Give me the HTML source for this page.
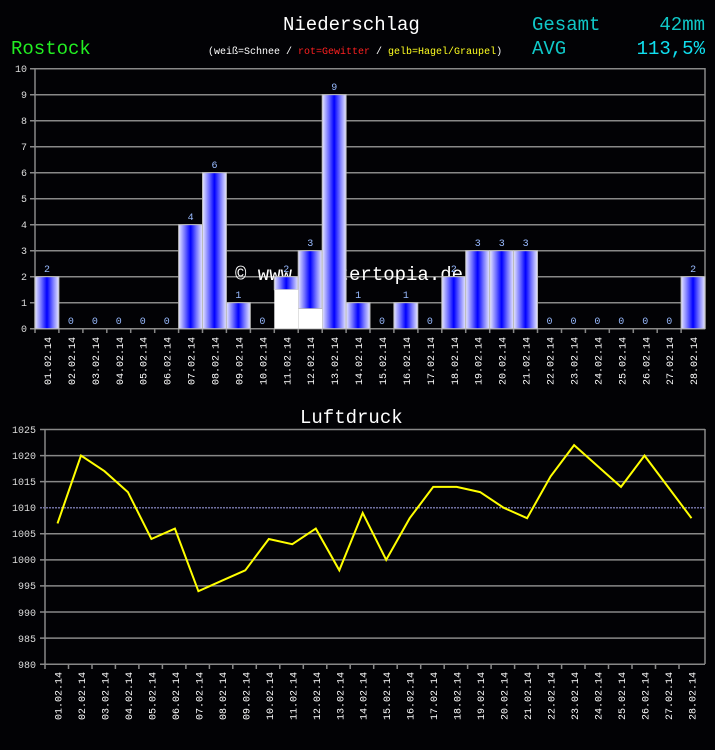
<!DOCTYPE html>
<html><head><meta charset="utf-8"><style>
html,body{margin:0;padding:0;background:#000;}
svg{display:block;}
text{font-family:"Liberation Mono","DejaVu Sans Mono",monospace;}
</style></head><body>
<svg width="715" height="750" viewBox="0 0 715 750" xmlns="http://www.w3.org/2000/svg">
<defs>
<linearGradient id="g" x1="0" y1="0" x2="1" y2="0">
<stop offset="0" stop-color="#e8e8ff"/>
<stop offset="0.25" stop-color="#7878ff"/>
<stop offset="0.5" stop-color="#0000ff"/>
<stop offset="0.75" stop-color="#7878ff"/>
<stop offset="1" stop-color="#e8e8ff"/>
</linearGradient>
</defs>
<rect width="715" height="750" fill="#020205"/>
<!-- header -->
<text x="283" y="30" font-size="19" fill="#fff">Niederschlag</text>
<text x="11" y="54" font-size="19" fill="#22ee22">Rostock</text>
<text x="532" y="30" font-size="19" fill="#10c8c8">Gesamt</text>
<text x="705" y="30" font-size="19" fill="#10c8c8" text-anchor="end">42mm</text>
<text x="532" y="54" font-size="19" fill="#10c8c8">AVG</text>
<text x="705" y="54" font-size="19" fill="#10e0f0" text-anchor="end">113,5%</text>
<text x="208" y="54" font-size="10" fill="#fff">(weiß=Schnee / <tspan fill="#ff2020">rot=Gewitter</tspan> / <tspan fill="#ffff20">gelb=Hagel/Graupel</tspan>)</text>

<!-- top chart grid -->
<g stroke="#888" stroke-width="1.5">
<line x1="30" y1="68.7" x2="705" y2="68.7"/>
<line x1="30" y1="94.7" x2="705" y2="94.7"/>
<line x1="30" y1="120.7" x2="705" y2="120.7"/>
<line x1="30" y1="146.7" x2="705" y2="146.7"/>
<line x1="30" y1="172.7" x2="705" y2="172.7"/>
<line x1="30" y1="198.7" x2="705" y2="198.7"/>
<line x1="30" y1="224.7" x2="705" y2="224.7"/>
<line x1="30" y1="250.7" x2="705" y2="250.7"/>
<line x1="30" y1="276.7" x2="705" y2="276.7"/>
<line x1="30" y1="302.7" x2="705" y2="302.7"/>
<line x1="30" y1="328.7" x2="705" y2="328.7"/>
<line x1="35" y1="68" x2="35" y2="333"/>
<line x1="705" y1="68" x2="705" y2="329"/>
</g>
<g stroke="#888" stroke-width="1.5">
<line x1="58.9" y1="329" x2="58.9" y2="333"/><line x1="82.9" y1="329" x2="82.9" y2="333"/><line x1="106.8" y1="329" x2="106.8" y2="333"/><line x1="130.7" y1="329" x2="130.7" y2="333"/><line x1="154.7" y1="329" x2="154.7" y2="333"/><line x1="178.6" y1="329" x2="178.6" y2="333"/><line x1="202.5" y1="329" x2="202.5" y2="333"/><line x1="226.4" y1="329" x2="226.4" y2="333"/><line x1="250.4" y1="329" x2="250.4" y2="333"/><line x1="274.3" y1="329" x2="274.3" y2="333"/><line x1="298.2" y1="329" x2="298.2" y2="333"/><line x1="322.2" y1="329" x2="322.2" y2="333"/><line x1="346.1" y1="329" x2="346.1" y2="333"/><line x1="370" y1="329" x2="370" y2="333"/><line x1="393.9" y1="329" x2="393.9" y2="333"/><line x1="417.9" y1="329" x2="417.9" y2="333"/><line x1="441.8" y1="329" x2="441.8" y2="333"/><line x1="465.7" y1="329" x2="465.7" y2="333"/><line x1="489.7" y1="329" x2="489.7" y2="333"/><line x1="513.6" y1="329" x2="513.6" y2="333"/><line x1="537.5" y1="329" x2="537.5" y2="333"/><line x1="561.5" y1="329" x2="561.5" y2="333"/><line x1="585.4" y1="329" x2="585.4" y2="333"/><line x1="609.3" y1="329" x2="609.3" y2="333"/><line x1="633.3" y1="329" x2="633.3" y2="333"/><line x1="657.2" y1="329" x2="657.2" y2="333"/><line x1="681.1" y1="329" x2="681.1" y2="333"/>
</g>
<g font-size="10" fill="#ddd" text-anchor="end">
<text x="27" y="72">10</text><text x="27" y="98">9</text><text x="27" y="124">8</text><text x="27" y="150">7</text><text x="27" y="176">6</text><text x="27" y="202">5</text><text x="27" y="228">4</text><text x="27" y="254">3</text><text x="27" y="280">2</text><text x="27" y="306">1</text><text x="27" y="332">0</text>
</g>
<!-- watermark -->
<text x="235" y="280" font-size="19" fill="#fff">© www.wettertopia.de</text>
<!-- bars -->
<g fill="url(#g)" stroke="#bbb" stroke-width="1">
<rect x="35" y="276.7" width="23.9" height="52"/>
<rect x="178.6" y="224.7" width="23.9" height="104"/>
<rect x="202.5" y="172.7" width="23.9" height="156"/>
<rect x="226.4" y="302.7" width="23.9" height="26"/>
<rect x="274.3" y="276.7" width="23.9" height="13"/>
<rect x="298.2" y="250.7" width="23.9" height="58"/>
<rect x="322.2" y="94.7" width="23.9" height="234"/>
<rect x="346.1" y="302.7" width="23.9" height="26"/>
<rect x="393.9" y="302.7" width="23.9" height="26"/>
<rect x="441.8" y="276.7" width="23.9" height="52"/>
<rect x="465.7" y="250.7" width="23.9" height="78"/>
<rect x="489.7" y="250.7" width="23.9" height="78"/>
<rect x="513.6" y="250.7" width="23.9" height="78"/>
<rect x="681.1" y="276.7" width="23.9" height="52"/>
</g>
<rect x="274.3" y="289.7" width="23.9" height="39" fill="#fff"/>
<rect x="298.2" y="309" width="23.9" height="19.7" fill="#fff"/>
<g font-size="10" fill="#99bbff" text-anchor="middle">
<text x="47" y="272">2</text><text x="70.9" y="324">0</text><text x="94.9" y="324">0</text><text x="118.8" y="324">0</text><text x="142.7" y="324">0</text><text x="166.7" y="324">0</text><text x="190.6" y="220">4</text><text x="214.5" y="168">6</text><text x="238.4" y="298">1</text><text x="262.4" y="324">0</text><text x="286.3" y="272">2</text><text x="310.2" y="246">3</text><text x="334.2" y="90">9</text><text x="358.1" y="298">1</text><text x="382" y="324">0</text><text x="405.9" y="298">1</text><text x="429.9" y="324">0</text><text x="453.8" y="272">2</text><text x="477.7" y="246">3</text><text x="501.7" y="246">3</text><text x="525.6" y="246">3</text><text x="549.5" y="324">0</text><text x="573.5" y="324">0</text><text x="597.4" y="324">0</text><text x="621.3" y="324">0</text><text x="645.3" y="324">0</text><text x="669.2" y="324">0</text><text x="693.1" y="272">2</text>
</g>
<g font-size="10" fill="#fff" transform="rotate(-90)">
<text x="-385" y="51">01.02.14</text><text x="-385" y="74.9">02.02.14</text><text x="-385" y="98.9">03.02.14</text><text x="-385" y="122.8">04.02.14</text><text x="-385" y="146.7">05.02.14</text><text x="-385" y="170.7">06.02.14</text><text x="-385" y="194.6">07.02.14</text><text x="-385" y="218.5">08.02.14</text><text x="-385" y="242.4">09.02.14</text><text x="-385" y="266.4">10.02.14</text><text x="-385" y="290.3">11.02.14</text><text x="-385" y="314.2">12.02.14</text><text x="-385" y="338.2">13.02.14</text><text x="-385" y="362.1">14.02.14</text><text x="-385" y="386">15.02.14</text><text x="-385" y="409.9">16.02.14</text><text x="-385" y="433.9">17.02.14</text><text x="-385" y="457.8">18.02.14</text><text x="-385" y="481.7">19.02.14</text><text x="-385" y="505.7">20.02.14</text><text x="-385" y="529.6">21.02.14</text><text x="-385" y="553.5">22.02.14</text><text x="-385" y="577.5">23.02.14</text><text x="-385" y="601.4">24.02.14</text><text x="-385" y="625.3">25.02.14</text><text x="-385" y="649.3">26.02.14</text><text x="-385" y="673.2">27.02.14</text><text x="-385" y="697.1">28.02.14</text>
</g>

<!-- bottom chart -->
<text x="300" y="423" font-size="19" fill="#fff">Luftdruck</text>
<g stroke="#888" stroke-width="1.5">
<line x1="40" y1="429.5" x2="705" y2="429.5"/>
<line x1="40" y1="455.6" x2="705" y2="455.6"/>
<line x1="40" y1="481.6" x2="705" y2="481.6"/>
<line x1="40" y1="533.8" x2="705" y2="533.8"/>
<line x1="40" y1="559.9" x2="705" y2="559.9"/>
<line x1="40" y1="585.9" x2="705" y2="585.9"/>
<line x1="40" y1="612" x2="705" y2="612"/>
<line x1="40" y1="638.1" x2="705" y2="638.1"/>
<line x1="40" y1="664.2" x2="705" y2="664.2"/>
<line x1="45" y1="429" x2="45" y2="669"/>
<line x1="705" y1="429" x2="705" y2="664"/>
</g>
<line x1="40" y1="507.7" x2="705" y2="507.7" stroke="#7070a0" stroke-width="1.5" stroke-dasharray="2,1"/>
<g stroke="#888" stroke-width="1.5">
<line x1="68.5" y1="664" x2="68.5" y2="669"/><line x1="92" y1="664" x2="92" y2="669"/><line x1="115.4" y1="664" x2="115.4" y2="669"/><line x1="138.9" y1="664" x2="138.9" y2="669"/><line x1="162.4" y1="664" x2="162.4" y2="669"/><line x1="185.9" y1="664" x2="185.9" y2="669"/><line x1="209.4" y1="664" x2="209.4" y2="669"/><line x1="232.8" y1="664" x2="232.8" y2="669"/><line x1="256.3" y1="664" x2="256.3" y2="669"/><line x1="279.8" y1="664" x2="279.8" y2="669"/><line x1="303.3" y1="664" x2="303.3" y2="669"/><line x1="326.8" y1="664" x2="326.8" y2="669"/><line x1="350.2" y1="664" x2="350.2" y2="669"/><line x1="373.7" y1="664" x2="373.7" y2="669"/><line x1="397.2" y1="664" x2="397.2" y2="669"/><line x1="420.7" y1="664" x2="420.7" y2="669"/><line x1="444.2" y1="664" x2="444.2" y2="669"/><line x1="467.6" y1="664" x2="467.6" y2="669"/><line x1="491.1" y1="664" x2="491.1" y2="669"/><line x1="514.6" y1="664" x2="514.6" y2="669"/><line x1="538.1" y1="664" x2="538.1" y2="669"/><line x1="561.6" y1="664" x2="561.6" y2="669"/><line x1="585" y1="664" x2="585" y2="669"/><line x1="608.5" y1="664" x2="608.5" y2="669"/><line x1="632" y1="664" x2="632" y2="669"/><line x1="655.5" y1="664" x2="655.5" y2="669"/><line x1="679" y1="664" x2="679" y2="669"/>
</g>
<g font-size="10" fill="#ddd" text-anchor="end">
<text x="36" y="433">1025</text><text x="36" y="459">1020</text><text x="36" y="485">1015</text><text x="36" y="511">1010</text><text x="36" y="537">1005</text><text x="36" y="563">1000</text><text x="36" y="589">995</text><text x="36" y="616">990</text><text x="36" y="642">985</text><text x="36" y="668">980</text>
</g>
<polyline fill="none" stroke="#ffff00" stroke-width="2" points="57.5,523.4 81,455.6 104.5,471.2 127.9,492.1 151.4,539 174.9,528.6 198.4,591.2 221.9,580.7 245.3,570.3 268.8,539 292.3,544.2 315.8,528.6 339.3,570.3 362.7,512.9 386.2,559.9 409.7,518.2 433.2,486.9 456.7,486.9 480.1,492.1 503.6,507.7 527.1,518.2 550.6,476.4 574.1,445.1 597.5,466 621,486.9 644.5,455.6 668,486.9 691.5,518.2"/>
<g font-size="10" fill="#fff" transform="rotate(-90)">
<text x="-720" y="61.5">01.02.14</text><text x="-720" y="85">02.02.14</text><text x="-720" y="108.5">03.02.14</text><text x="-720" y="131.9">04.02.14</text><text x="-720" y="155.4">05.02.14</text><text x="-720" y="178.9">06.02.14</text><text x="-720" y="202.4">07.02.14</text><text x="-720" y="225.9">08.02.14</text><text x="-720" y="249.3">09.02.14</text><text x="-720" y="272.8">10.02.14</text><text x="-720" y="296.3">11.02.14</text><text x="-720" y="319.8">12.02.14</text><text x="-720" y="343.3">13.02.14</text><text x="-720" y="366.7">14.02.14</text><text x="-720" y="390.2">15.02.14</text><text x="-720" y="413.7">16.02.14</text><text x="-720" y="437.2">17.02.14</text><text x="-720" y="460.7">18.02.14</text><text x="-720" y="484.1">19.02.14</text><text x="-720" y="507.6">20.02.14</text><text x="-720" y="531.1">21.02.14</text><text x="-720" y="554.6">22.02.14</text><text x="-720" y="578.1">23.02.14</text><text x="-720" y="601.5">24.02.14</text><text x="-720" y="625">25.02.14</text><text x="-720" y="648.5">26.02.14</text><text x="-720" y="672">27.02.14</text><text x="-720" y="695.5">28.02.14</text>
</g>
</svg>
</body></html>
